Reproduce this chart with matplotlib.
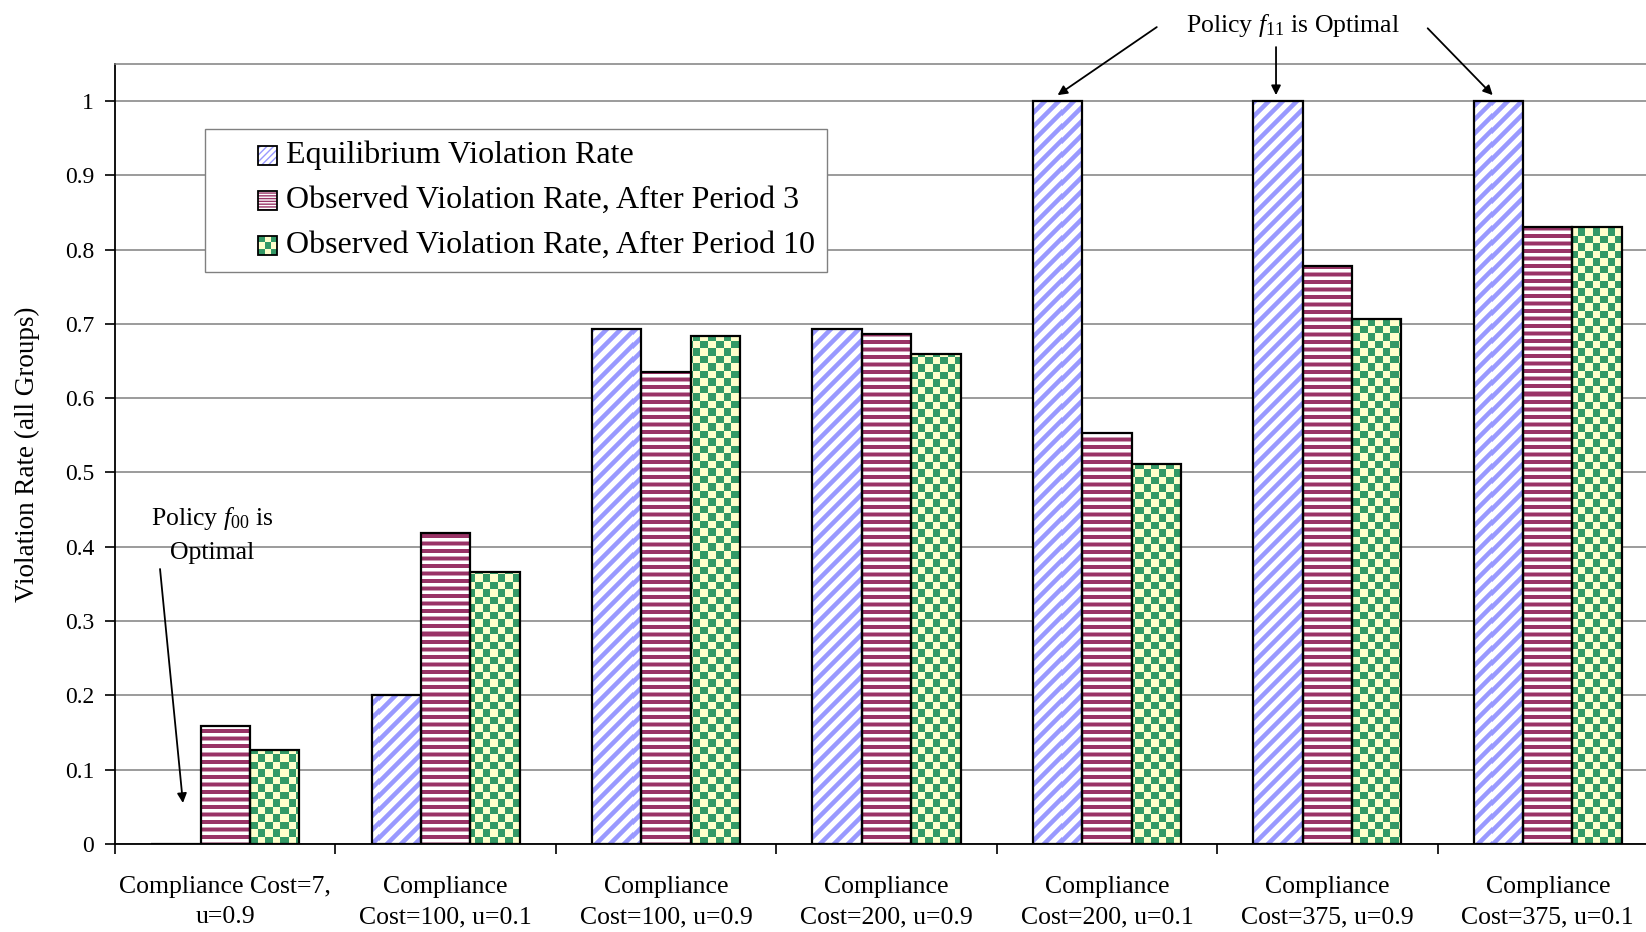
import numpy as np
import matplotlib
matplotlib.use("Agg")
import matplotlib.pyplot as plt
from matplotlib.patches import Patch, Rectangle
from matplotlib.colors import to_rgb

plt.rcParams['font.family'] = ['Liberation Serif', 'DejaVu Serif']
plt.rcParams['mathtext.fontset'] = 'custom'
plt.rcParams['mathtext.rm'] = 'Liberation Serif'
plt.rcParams['mathtext.it'] = 'Liberation Serif:italic'

# dane
categories = ["Compliance Cost=7,\nu=0.9",
              "Compliance\nCost=100, u=0.1",
              "Compliance\nCost=100, u=0.9",
              "Compliance\nCost=200, u=0.9",
              "Compliance\nCost=200, u=0.1",
              "Compliance\nCost=375, u=0.9",
              "Compliance\nCost=375, u=0.1"]
equilibrium = [0.0, 0.2, 0.693, 0.693, 1.0, 1.0, 1.0]
after_period3 = [0.158, 0.419, 0.635, 0.686, 0.553, 0.778, 0.831]
after_period10 = [0.126, 0.366, 0.684, 0.659, 0.511, 0.707, 0.831]
series_names = ["Equilibrium Violation Rate",
                "Observed Violation Rate, After Period 3",
                "Observed Violation Rate, After Period 10"]
y_ticks = [0, 0.1, 0.2, 0.3, 0.4, 0.5, 0.6, 0.7, 0.8, 0.9, 1.0]
y_tick_labels = ["0", "0.1", "0.2", "0.3", "0.4", "0.5", "0.6", "0.7", "0.8", "0.9", "1"]

BLUE = "#9999FF"
MAROON = "#993366"
GREEN = "#339966"
YELLOW = "#FFFFCC"


def texture(kind, h, w):
    rows, cols = np.mgrid[0:h, 0:w]
    if kind == "diag":
        a = 0.5 + 0.5 * np.cos(2 * np.pi * (cols + rows) / 14.0)
        mask = np.clip((a - 0.55) * 3 + 0.5, 0, 1)
        fg, bg = np.array(to_rgb(BLUE)), np.array(to_rgb("white"))
    elif kind == "horiz":
        a = 0.5 + 0.5 * np.cos(2 * np.pi * rows / 7.5)
        mask = np.clip((a - 0.45) * 3 + 0.5, 0, 1)
        fg, bg = np.array(to_rgb(MAROON)), np.array(to_rgb("white"))
    else:
        c = 7.5
        mask = (((cols / c).astype(int) + (rows / c).astype(int)) % 2).astype(float)
        fg, bg = np.array(to_rgb(GREEN)), np.array(to_rgb(YELLOW))
    return bg * (1 - mask[..., None]) + fg * mask[..., None]


fig = plt.figure(figsize=(16.46, 9.32), dpi=100)
ax = fig.add_axes([0.0699, 0.0946, 0.9374, 0.8368])

x = np.arange(len(categories))
w = 0.224

pos = ax.get_position()
w_px = int(round(pos.width * 1646))
h_px = int(round(pos.height * 932))

specs = [(equilibrium, -w, "white", "diag"),
         (after_period3, 0, "white", "horiz"),
         (after_period10, w, YELLOW, "checker")]
for vals, off, face, kind in specs:
    bars = ax.bar(x + off, vals, w, color=face, linewidth=0, zorder=2)
    img = texture(kind, h_px, w_px)
    for b in bars:
        im = ax.imshow(img, extent=(0, 1, 0, 1), transform=ax.transAxes,
                       aspect='auto', interpolation='nearest', zorder=2.5)
        im.set_clip_path(b)
    ax.bar(x + off, vals, w, fill=False, edgecolor="black", linewidth=1.6, zorder=3)

ax.set_xlim(-0.5, 6.5)
ax.set_ylim(0, 1.05)
ax.set_yticks(y_ticks)
ax.set_yticklabels(y_tick_labels, fontsize=17)
ax.set_xticks(x)
ax.set_xticklabels(categories, fontsize=18.5, linespacing=1.5)
ax.set_xticks(np.arange(-0.5, 7, 1), minor=True)
ax.tick_params(axis='x', which='major', length=0, pad=23)
ax.tick_params(axis='x', which='minor', length=7, width=1.2, direction='out')
ax.tick_params(axis='y', length=7, width=1.2, direction='out', pad=8)
ax.set_ylabel("Violation Rate (all Groups)", fontsize=19.5, labelpad=18)

ax.yaxis.grid(True, color="#808080", linewidth=1.1)
ax.set_axisbelow(True)
ax.spines['top'].set_color("#808080")
ax.spines['top'].set_linewidth(1.1)
ax.spines['right'].set_visible(False)
ax.spines['left'].set_linewidth(1.3)
ax.spines['bottom'].set_linewidth(1.3)


class SwatchHandler:
    def __init__(self, kind):
        self.kind = kind

    def legend_artist(self, legend, orig_handle, fontsize, handlebox):
        s = handlebox.height
        x0 = handlebox.xdescent + handlebox.width - s
        y0 = handlebox.ydescent
        tr = handlebox.get_transform()
        if self.kind == "diag":
            p = Rectangle((x0, y0), s, s, facecolor="white", edgecolor=BLUE,
                          hatch="/////", linewidth=0, transform=tr)
            handlebox.add_artist(p)
        elif self.kind == "horiz":
            p = Rectangle((x0, y0), s, s, facecolor="white", edgecolor=MAROON,
                          hatch="------", linewidth=0, transform=tr)
            handlebox.add_artist(p)
        else:
            p = Rectangle((x0, y0), s, s, facecolor=YELLOW, linewidth=0, transform=tr)
            handlebox.add_artist(p)
            c = s / 3
            for i in range(3):
                for j in range(3):
                    if (i + j) % 2 == 0:
                        handlebox.add_artist(Rectangle((x0 + i * c, y0 + j * c), c, c,
                                                       facecolor=GREEN, linewidth=0,
                                                       transform=tr))
        edge = Rectangle((x0, y0), s, s, fill=False, edgecolor="black",
                         linewidth=1.3, transform=tr)
        handlebox.add_artist(edge)
        return p


handles = [Patch(label=n) for n in series_names]
kinds = ["diag", "horiz", "checker"]
leg = ax.legend(handles=handles, handler_map={h: SwatchHandler(k) for h, k in zip(handles, kinds)},
                loc='upper left', bbox_to_anchor=(0.0583, 0.9164), fontsize=23,
                frameon=True, fancybox=False, edgecolor="#808080", framealpha=1,
                handlelength=1.9, handleheight=0.54, handletextpad=0.28,
                borderpad=0.36, labelspacing=0.5, borderaxespad=0)
leg.get_frame().set_linewidth(1.0)
leg.set_zorder(5)

# adnotacje
ax.text(4.845, 1.102, r"Policy $f_{11}$ is Optimal", fontsize=18.5,
        ha='center', va='center', clip_on=False)
arrow = dict(arrowstyle='-|>', color='black', lw=1.3, mutation_scale=14,
             shrinkA=0, shrinkB=0)
for start, end in [((4.226, 1.0996), (3.776, 1.008)),
                   ((4.767, 1.0727), (4.767, 1.008)),
                   ((5.455, 1.098), (5.75, 1.008))]:
    ax.annotate("", xy=end, xytext=start, arrowprops=arrow, annotation_clip=False)

ax.text(-0.058, 0.417, "Policy $f_{00}$ is\nOptimal", fontsize=18.5,
        ha='center', va='center', multialignment='center', linespacing=1.6)
ax.annotate("", xy=(-0.192, 0.055), xytext=(-0.296, 0.370), arrowprops=arrow)

fig.savefig("out.png", dpi=100)
